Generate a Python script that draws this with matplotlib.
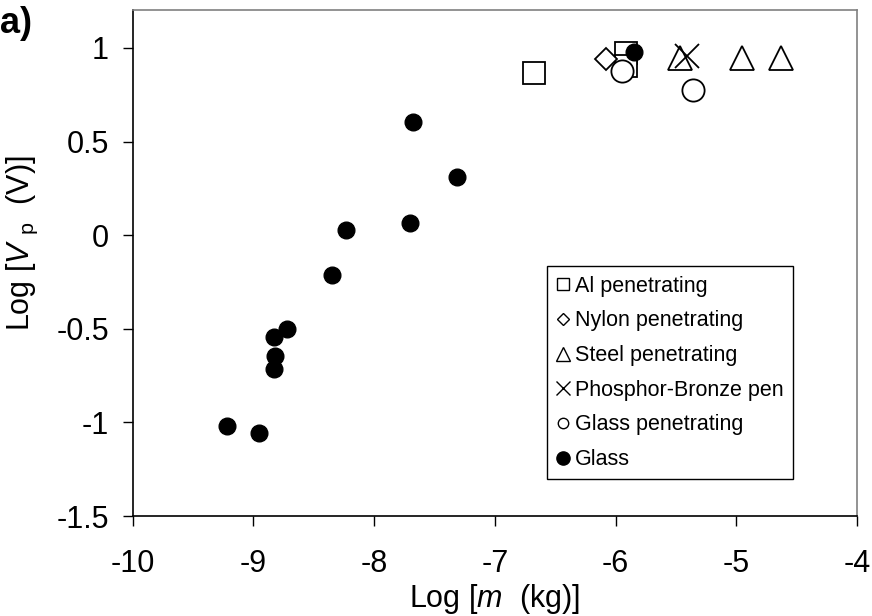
import matplotlib
matplotlib.use("Agg")
import matplotlib.pyplot as plt
from matplotlib.lines import Line2D

plt.rcParams['font.family'] = ['Liberation Sans', 'DejaVu Sans']
plt.rcParams['mathtext.fontset'] = 'custom'
plt.rcParams['mathtext.rm'] = 'Liberation Sans'
plt.rcParams['mathtext.it'] = 'Liberation Sans:italic'

# Data (Log m [kg], Log Vp [V])
al_x = [-6.673, -5.913, -5.913]
al_y = [0.866, 0.971, 0.902]
nylon_x = [-6.078]
nylon_y = [0.943]
steel_x = [-5.463, -4.950, -4.629]
steel_y = [0.946, 0.948, 0.948]
pb_x = [-5.408]
pb_y = [0.959]
glasspen_x = [-5.946, -5.361]
glasspen_y = [0.875, 0.774]
glass_x = [-7.675, -7.316, -7.703, -8.233, -8.346, -8.722, -8.832, -8.819,
           -8.832, -9.221, -8.956, -5.844]
glass_y = [0.605, 0.308, 0.066, 0.030, -0.213, -0.502, -0.546, -0.646,
           -0.717, -1.019, -1.058, 0.978]

labels = ["Al penetrating", "Nylon penetrating", "Steel penetrating",
          "Phosphor-Bronze pen", "Glass penetrating", "Glass"]

fig = plt.figure(figsize=(8.72, 6.16), dpi=100)
ax = fig.add_axes([0.1522, 0.1623, 0.9828 - 0.1522, 0.983 - 0.1623])

mew = 1.3
ax.plot(al_x, al_y, ls='none', marker='s', ms=16, mfc='white', mec='black', mew=mew)
ax.plot(nylon_x, nylon_y, ls='none', marker='D', ms=11, mfc='white', mec='black', mew=mew)
ax.plot(steel_x, steel_y, ls='none', marker='^', ms=17, mfc='white', mec='black', mew=mew)
ax.plot(pb_x, pb_y, ls='none', marker='x', ms=17, mec='black', mew=mew)
ax.plot(glasspen_x, glasspen_y, ls='none', marker='o', ms=16, mfc='white', mec='black', mew=mew)
ax.plot(glass_x, glass_y, ls='none', marker='o', ms=12, mfc='black', mec='black', mew=1)

ax.set_xlim(-10, -4)
ax.set_ylim(-1.5, 1.2)
ax.set_xticks([-10, -9, -8, -7, -6, -5, -4])
ax.set_yticks([-1.5, -1, -0.5, 0, 0.5, 1])
ax.set_xticklabels(['-10', '-9', '-8', '-7', '-6', '-5', '-4'])
ax.set_yticklabels(['-1.5', '-1', '-0.5', '0', '0.5', '1'])
ax.tick_params(direction='out', length=7, width=1, labelsize=22, colors='black')
ax.tick_params(axis='x', pad=17)
ax.tick_params(axis='y', pad=10)

for s in ['left', 'bottom']:
    ax.spines[s].set_color('black')
    ax.spines[s].set_linewidth(1.2)
for s in ['top', 'right']:
    ax.spines[s].set_color('#808080')
    ax.spines[s].set_linewidth(1.2)

ax.set_xlabel(r'Log [$\mathit{m}$  (kg)]', fontsize=22, labelpad=2)
ax.set_ylabel(r'Log [$\mathit{V}$ $_{\mathrm{p}}$  (V)]', fontsize=22, labelpad=12)
ax.yaxis.label.set_y(0.54)

handles = [
    Line2D([], [], ls='none', marker='s', ms=8.4, mfc='white', mec='black', mew=1),
    Line2D([], [], ls='none', marker='D', ms=6, mfc='white', mec='black', mew=1),
    Line2D([], [], ls='none', marker='^', ms=9.6, mfc='white', mec='black', mew=1),
    Line2D([], [], ls='none', marker='x', ms=10.5, mec='black', mew=1),
    Line2D([], [], ls='none', marker='o', ms=7.5, mfc='white', mec='black', mew=1),
    Line2D([], [], ls='none', marker='o', ms=9.5, mfc='black', mec='black', mew=1),
]
leg = ax.legend(handles, labels, loc='lower left',
                bbox_to_anchor=((546.7 - 132.7) / (857 - 132.7), (516 - 479.3) / (516 - 10.5)),
                fontsize=15.5, frameon=True, fancybox=False, framealpha=1,
                edgecolor='black', handlelength=0.62, handletextpad=0.25,
                labelspacing=0.635, borderpad=0.43, borderaxespad=0)
leg.get_frame().set_linewidth(1.0)

fig.text(0.0, 0.99, 'a)', fontsize=26, fontweight='bold', va='top', ha='left')

fig.savefig('out.png', dpi=100)
